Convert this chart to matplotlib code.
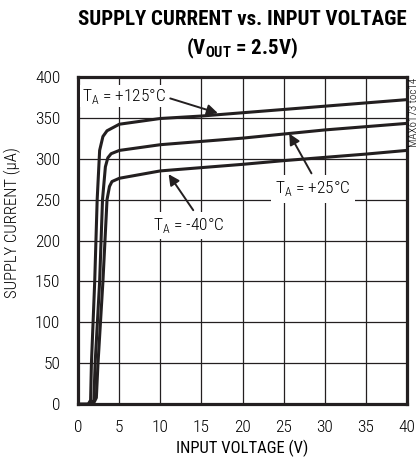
import matplotlib
matplotlib.use("Agg")
import matplotlib.pyplot as plt
from matplotlib import font_manager

# ======================================================
# DATA
# ======================================================
v_125 = [0, 1.2, 1.5, 1.6, 2.0, 2.3, 2.6, 3.0, 3.5, 5, 10, 15, 20, 25, 30, 35, 40]
i_125 = [0, 0, 5, 50, 150, 250, 310, 327, 334, 342, 349, 352, 356, 360, 364, 368, 372]

v_25 = [0, 1.5, 1.9, 2.05, 2.6, 2.95, 3.3, 3.6, 4.0, 5, 10, 15, 20, 25, 30, 35, 40]
i_25 = [0, 0, 5, 50, 150, 250, 290, 301, 306, 310, 317, 321, 325, 330, 335, 339, 343]

v_m40 = [0, 1.8, 2.2, 2.4, 3.0, 3.5, 3.8, 4.1, 5, 10, 15, 20, 25, 30, 35, 40]
i_m40 = [0, 0, 8, 50, 150, 250, 266, 272, 276, 285, 289, 293, 297.5, 301.5, 305.5, 310]

x_ticks = [0, 5, 10, 15, 20, 25, 30, 35, 40]
y_ticks = [0, 50, 100, 150, 200, 250, 300, 350, 400]

# ======================================================
# FONTS (pick a condensed face that is installed)
# ======================================================
installed = {f.name for f in font_manager.fontManager.ttflist}


def pick(cands):
    for c in cands:
        if c in installed:
            return c
    return "DejaVu Sans"


BODY = pick(["Roboto Condensed", "Archivo Narrow", "PT Sans Narrow",
             "Asap Condensed", "DejaVu Sans"])
HEAD = pick(["Roboto Condensed", "Archivo Narrow", "Barlow Condensed",
             "DejaVu Sans"])

plt.rcParams["font.family"] = [BODY, "DejaVu Sans"]
plt.rcParams["font.weight"] = "light"
plt.rcParams["mathtext.fontset"] = "custom"
plt.rcParams["mathtext.rm"] = f"{BODY}:light"
plt.rcParams["mathtext.bf"] = f"{HEAD}:black"

INK = "#231f20"

# ======================================================
# PLOTTING
# ======================================================
fig = plt.figure(figsize=(4.18, 4.63), dpi=100)
ax = fig.add_axes([0.1873, 0.1268, 0.7857, 0.7075])

for v, i in [(v_125, i_125), (v_25, i_25), (v_m40, i_m40)]:
    ax.plot(v, i, color=INK, lw=2.2, solid_joinstyle="round", zorder=3)

ax.set_xlim(0, 40)
ax.set_ylim(0, 400)
ax.set_xticks(x_ticks)
ax.set_yticks(y_ticks)
ax.tick_params(axis="y", length=0, labelsize=12.5, pad=13)
ax.tick_params(axis="x", length=0, labelsize=12.5, pad=11)
ax.grid(True, color=INK, lw=0.9)
ax.set_axisbelow(True)
for s in ax.spines.values():
    s.set_linewidth(2.3)
    s.set_color(INK)

ax.set_xlabel("INPUT VOLTAGE (V)", fontsize=12, labelpad=4)
fig.text(0.03, 0.52, "SUPPLY CURRENT (\u00b5A)", fontsize=12, rotation=90,
         ha="center", va="center")

# ======================================================
# ANNOTATIONS
# ======================================================
arrow = dict(arrowstyle="-|>", color=INK, lw=1.4, mutation_scale=16,
             shrinkA=0, shrinkB=0)
box = dict(facecolor="white", edgecolor="none", pad=3)

ax.text(0.4, 376, r"T$_\mathrm{A}$ = +125°C", fontsize=12.5, ha="left",
        va="center", bbox=dict(facecolor="white", edgecolor="none", pad=1),
        zorder=4)
ax.annotate("", xy=(17.0, 355.5), xytext=(11.2, 373.5), arrowprops=arrow,
            zorder=4)

ax.text(28.6, 263, r"T$_\mathrm{A}$ = +25°C", fontsize=12.5, ha="center",
        va="center", bbox=box, zorder=4)
ax.annotate("", xy=(25.7, 330.5), xytext=(28.4, 282), arrowprops=arrow,
            zorder=4)

ax.text(13.5, 218, r"T$_\mathrm{A}$ = -40°C", fontsize=12.5, ha="center",
        va="center", bbox=box, zorder=4)
ax.annotate("", xy=(11.0, 281), xytext=(14.0, 237), arrowprops=arrow,
            zorder=4)

# ======================================================
# TITLES
# ======================================================
fig.text(0.58, 0.957, "SUPPLY CURRENT vs. INPUT VOLTAGE", fontsize=15,
         family=[HEAD, "DejaVu Sans"], fontweight="black", ha="center",
         va="center")
fig.text(0.58, 0.896, r"(V$_\mathbf{OUT}$ = 2.5V)", fontsize=15,
         family=[HEAD, "DejaVu Sans"], fontweight="black", ha="center",
         va="center")

fig.text(0.991, 0.832, "MAX6173 toc14", fontsize=8, rotation=90,
         ha="center", va="top")

fig.savefig("out.png", dpi=100)
plt.close(fig)
